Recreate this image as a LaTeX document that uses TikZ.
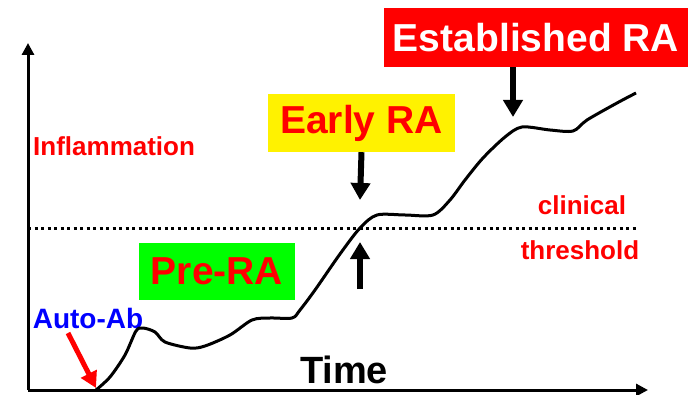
\documentclass[tikz,border=0pt]{standalone}
\usepackage{fontspec}
\setmainfont{Liberation Sans}
\usetikzlibrary{arrows.meta}
\tikzset{
  lbl/.style={font=\bfseries\fontsize{26}{26}\selectfont, text=red, inner sep=0pt},
  stage/.style={font=\bfseries\fontsize{39}{39}\selectfont, inner sep=0pt, text=red},
  bigarrow/.style={line width=6pt, -{Triangle[width=19pt,length=17pt]}},
  axis/.style={line width=3pt, -{Triangle[width=12pt,length=12pt]}}
}
\begin{document}
\begin{tikzpicture}[x=1pt, y=-1pt]
    \useasboundingbox (0,0) rectangle (690,395);
    \coordinate (origin) at (28,390); \coordinate (ytip) at (28,43); \coordinate (xtip) at (648,390);
    \draw[axis] (origin) -- (ytip);
    \draw[axis] (origin) -- (xtip);
    \coordinate (thl) at (28,229); \coordinate (thr) at (637,229);
    \draw[line width=3pt, dash pattern=on 3pt off 3.5pt] (thl) -- (thr);
    \node[lbl, anchor=west] (infl) at (33,146) {Inflammation};
    \node[lbl] (clin) at (582,205) {clinical};
    \node[lbl] (thresh) at (580,250) {threshold};
    \node[lbl, text=blue, font=\bfseries\fontsize{28}{28}\selectfont] (autoab) at (88,318) {Auto-Ab};
    \node[font=\bfseries\fontsize{38}{38}\selectfont, inner sep=0pt] (time) at (344,370) {Time};
    \node[stage, fill=yellow, minimum width=187pt, minimum height=58pt] (early) at (361.5,123) {Early RA};
    \node[stage, fill=red, text=white, minimum width=304pt, minimum height=59pt] (estab) at (536,37.5) {Established RA};
    \node[stage, fill=green, minimum width=156pt, minimum height=57pt] (prera) at (217,271.5) {Pre-RA};
    \coordinate (start) at (96,388);
    \draw[line width=3pt, line join=round] plot[smooth, tension=0.5] coordinates {
      (96,390) (110,377) (125,355) (136,331) (143,328) (155,332) (165,342) (190,348) (205,346)
      (230,335) (252,320) (270,318) (292,318) (300,310) (315,290) (340,254) (360,228)
      (377,215) (405,215) (433,215) (450,200) (465,180) (483,158) (505,137) (522,127)
      (550,130) (573,131) (587,120) (617,103) (636,93)};
    \coordinate (earlydown) at (360,200);
    \coordinate (earlytail) at (360,289); \coordinate (earlyup) at (360,242);
    \coordinate (estabdown) at (513,117);
    \draw[bigarrow] (early.south) -- (earlydown);
    \draw[bigarrow] (earlytail) -- (earlyup);
    \draw[bigarrow] (estab.south -| estabdown) -- (estabdown);
    \coordinate (abtail) at (68,333);
    \draw[red, line width=5pt, -{Triangle[width=17pt,length=16pt]}] (abtail) -- (start);
\end{tikzpicture}
\end{document}
